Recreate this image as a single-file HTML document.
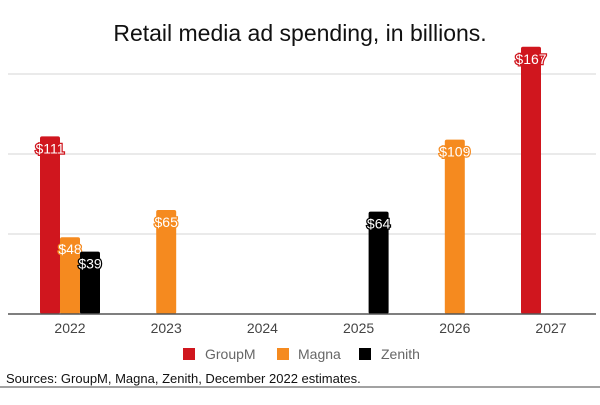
<!DOCTYPE html>
<html><head><meta charset="utf-8"><style>
body{margin:0;width:600px;height:400px;background:#fff;overflow:hidden;font-family:"Liberation Sans",sans-serif}
</style></head><body>
<svg width="600" height="400" id="c">
<text x="300" y="41" text-anchor="middle" font-size="23" fill="#111">Retail media ad spending, in billions.</text>
<g id="grid"></g><g id="bars"></g><g id="xl"></g>
<line x1="8" x2="596" y1="314" y2="314" stroke="#555" stroke-width="1.5"/>
<g font-size="14" fill="#666">
<rect x="183" y="348" width="12" height="12" fill="#d0161e"/>
<text x="205" y="359">GroupM</text>
<rect x="277" y="348" width="12" height="12" fill="#f58a1f"/>
<text x="298" y="359">Magna</text>
<rect x="359" y="348" width="12" height="12" fill="#000"/>
<text x="381" y="359">Zenith</text>
</g>
<text x="6" y="383" font-size="13" fill="#111">Sources: GroupM, Magna, Zenith, December 2022 estimates.</text>
<line x1="0" x2="600" y1="387" y2="387" stroke="#444" stroke-width="1"/>
</svg>
<script>
const categories=["2022","2023","2024","2025","2026","2027"];
const groupm=[111,null,null,null,null,167];
const magna=[48,65,null,null,109,null];
const zenith=[39,null,null,64,null,null];
const gridTicks=[50,100,150];
const ns="http://www.w3.org/2000/svg";
const y=v=>314-v*1.6;
const x=i=>70+i*96.2;
function mk(t,a,p){const e=document.createElementNS(ns,t);for(const k in a)e.setAttribute(k,a[k]);p.appendChild(e);return e;}
const G=document.getElementById('grid'),B=document.getElementById('bars'),XL=document.getElementById('xl');
gridTicks.forEach(v=>{const l=mk('line',{x1:8,x2:596,y1:y(v),y2:y(v),stroke:'#d4d4d4'},G);

});
categories.forEach((c,i)=>{const t=mk('text',{x:x(i),y:333,'text-anchor':'middle','font-size':14,fill:'#444'},XL);t.textContent=c;

});
const series=[[groupm,'#d0161e',-20,'groupm'],[magna,'#f58a1f',0,'magna'],[zenith,'#000',20,'zenith']];
series.forEach(([d,col,off,nm])=>{d.forEach((v,i)=>{if(v==null)return;const cx=x(i)+off;
const r=mk('rect',{x:cx-10,y:y(v),width:20,height:314-y(v),fill:col,rx:2},B);


const t=mk('text',{x:cx,y:y(v)+17,'text-anchor':'middle','font-size':14,fill:'#fff',stroke:col,'stroke-width':2.5,'paint-order':'stroke'},B);t.textContent='$'+v;

});});
</script>
</body></html>
